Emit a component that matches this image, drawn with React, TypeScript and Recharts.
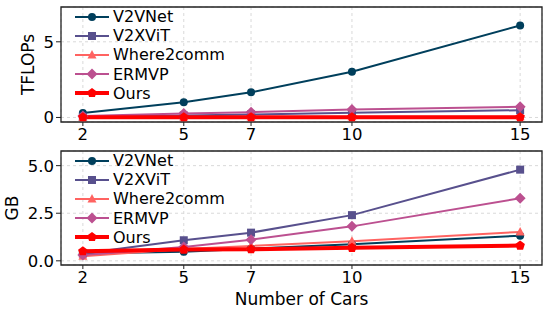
import React from 'react'
import {
  LineChart,
  Line,
  XAxis,
  YAxis,
  CartesianGrid,
  ReferenceArea,
} from 'recharts'

// number of cars on the x axis
const cars = [2, 5, 7, 10, 15]

// TFLOPs (top panel)
const v2vnetFlops = [0.3, 1.0, 1.66, 3.02, 6.08]
const v2xvitFlops = [0.05, 0.13, 0.2, 0.31, 0.48]
const where2commFlops = [0.02, 0.03, 0.03, 0.04, 0.05]
const ermvpFlops = [0.09, 0.26, 0.35, 0.53, 0.7]
const oursFlops = [0.01, 0.01, 0.02, 0.02, 0.02]

// memory in GB (bottom panel)
const v2vnetGB = [0.38, 0.47, 0.64, 0.87, 1.32]
const v2xvitGB = [0.38, 1.08, 1.48, 2.4, 4.79]
const where2commGB = [0.24, 0.62, 0.78, 1.03, 1.52]
const ermvpGB = [0.3, 0.73, 1.11, 1.81, 3.29]
const oursGB = [0.5, 0.59, 0.61, 0.68, 0.8]

const flopsTicks = [0, 5]
const gbTicks = [0, 2.5, 5]

const FONT = '"DejaVu Sans", sans-serif'

type Shape = 'circle' | 'square' | 'triangle' | 'diamond' | 'pentagon'

const series: { key: string; color: string; shape: Shape; width: number }[] = [
  { key: 'V2VNet', color: '#003f5c', shape: 'circle', width: 2 },
  { key: 'V2XViT', color: '#58508d', shape: 'square', width: 2 },
  { key: 'Where2comm', color: '#ff6361', shape: 'triangle', width: 2 },
  { key: 'ERMVP', color: '#bc5090', shape: 'diamond', width: 2 },
  { key: 'Ours', color: '#ff0000', shape: 'pentagon', width: 4 },
]

const flopsData = cars.map((c, i) => ({
  cars: c,
  V2VNet: v2vnetFlops[i],
  V2XViT: v2xvitFlops[i],
  Where2comm: where2commFlops[i],
  ERMVP: ermvpFlops[i],
  Ours: oursFlops[i],
}))

const gbData = cars.map((c, i) => ({
  cars: c,
  V2VNet: v2vnetGB[i],
  V2XViT: v2xvitGB[i],
  Where2comm: where2commGB[i],
  ERMVP: ermvpGB[i],
  Ours: oursGB[i],
}))

function Marker({ shape, color, cx, cy }: { shape: Shape; color: string; cx: number; cy: number }) {
  if (shape === 'circle') return <circle cx={cx} cy={cy} r={4} fill={color} />
  if (shape === 'square') return <rect x={cx - 4} y={cy - 4} width={8} height={8} fill={color} />
  if (shape === 'triangle')
    return <polygon points={`${cx},${cy - 5} ${cx + 4.5},${cy + 3.5} ${cx - 4.5},${cy + 3.5}`} fill={color} />
  if (shape === 'diamond')
    return <polygon points={`${cx},${cy - 5.5} ${cx + 5.5},${cy} ${cx},${cy + 5.5} ${cx - 5.5},${cy}`} fill={color} />
  const pts = [0, 1, 2, 3, 4]
    .map(k => {
      const a = -Math.PI / 2 + (k * 2 * Math.PI) / 5
      return `${cx + 5 * Math.cos(a)},${cy + 5 * Math.sin(a)}`
    })
    .join(' ')
  return <polygon points={pts} fill={color} />
}

function LegendBox({ top }: { top: number }) {
  return (
    <div style={{ position: 'absolute', left: 75, top, fontFamily: FONT, fontSize: 16 }}>
      {series.map(s => (
        <div key={s.key} style={{ display: 'flex', alignItems: 'center', height: 19.2 }}>
          <svg width={34} height={14} style={{ display: 'block' }}>
            <line x1={0} x2={34} y1={7} y2={7} stroke={s.color} strokeWidth={s.width} />
            <Marker shape={s.shape} color={s.color} cx={17} cy={7} />
          </svg>
          <span style={{ marginLeft: 4, color: '#000', lineHeight: '19px' }}>{s.key}</span>
        </div>
      ))}
    </div>
  )
}

const tickStyle = { fill: '#000', fontSize: 16.5, fontFamily: FONT }

function yLabel(text: string, x: number) {
  return (props: any) => {
    const vb = props.viewBox || {}
    const cy = (vb.y ?? 0) + (vb.height ?? 0) / 2
    return (
      <text
        x={x}
        y={cy}
        transform={`rotate(-90 ${x} ${cy})`}
        textAnchor="middle"
        dominantBaseline="central"
        fontSize={17}
        fontFamily={FONT}
        fill="#000"
      >
        {text}
      </text>
    )
  }
}

function Panel({
  data,
  yDomain,
  yTicks,
  yFmt,
  height,
  marginTop,
  xHeight,
  label,
  labelX,
  showXLabel,
}: {
  data: any[]
  yDomain: [number, number]
  yTicks: number[]
  yFmt: (v: number) => string
  height: number
  marginTop: number
  xHeight: number
  label: string
  labelX: number
  showXLabel: boolean
}) {
  return (
    <LineChart width={546} height={height} data={data} margin={{ top: marginTop, right: 4, bottom: 0, left: 0 }}>
      <CartesianGrid stroke="#d9d9d9" strokeDasharray="3 3" />
      <XAxis
        dataKey="cars"
        type="number"
        domain={[1.35, 15.65]}
        ticks={cars}
        allowDataOverflow
        height={xHeight}
        axisLine={false}
        tickLine={{ stroke: '#222' }}
        tickSize={4}
        tickMargin={2}
        tick={tickStyle}
        label={
          showXLabel
            ? { value: 'Number of Cars', position: 'insideBottom', offset: 8, fontSize: 17, fill: '#000', fontFamily: FONT }
            : undefined
        }
      />
      <YAxis
        type="number"
        domain={yDomain}
        ticks={yTicks}
        allowDataOverflow
        width={61}
        axisLine={false}
        tickLine={{ stroke: '#222' }}
        tickSize={5}
        tickMargin={2}
        tick={tickStyle}
        tickFormatter={yFmt}
        label={yLabel(label, labelX)}
      />
      <ReferenceArea
        x1={1.35}
        x2={15.65}
        y1={yDomain[0]}
        y2={yDomain[1]}
        fill="none"
        fillOpacity={0}
        stroke="#222"
        strokeWidth={1.3}
      />
      {series.map(s => (
        <Line
          key={s.key}
          dataKey={s.key}
          stroke={s.color}
          strokeWidth={s.width}
          isAnimationActive={false}
          activeDot={false}
          dot={(p: any) => <Marker key={`${s.key}-${p.index}`} shape={s.shape} color={s.color} cx={p.cx} cy={p.cy} />}
        />
      ))}
    </LineChart>
  )
}

export default function App() {
  return (
    <div style={{ position: 'absolute', left: 0, top: 0, width: 546, height: 313, background: '#fff' }}>
      <div style={{ position: 'absolute', left: 0, top: 140 }}>
        <Panel
          data={gbData}
          yDomain={[-0.22, 5.77]}
          yTicks={gbTicks}
          yFmt={v => v.toFixed(1)}
          height={173}
          marginTop={11}
          xHeight={48}
          label="GB"
          labelX={12}
          showXLabel
        />
      </div>
      <div style={{ position: 'absolute', left: 0, top: 0 }}>
        <Panel
          data={flopsData}
          yDomain={[-0.3, 7.3]}
          yTicks={flopsTicks}
          yFmt={v => String(v)}
          height={148}
          marginTop={7}
          xHeight={26}
          label="TFLOPs"
          labelX={28}
          showXLabel={false}
        />
      </div>
      <LegendBox top={7} />
      <LegendBox top={151} />
    </div>
  )
}
